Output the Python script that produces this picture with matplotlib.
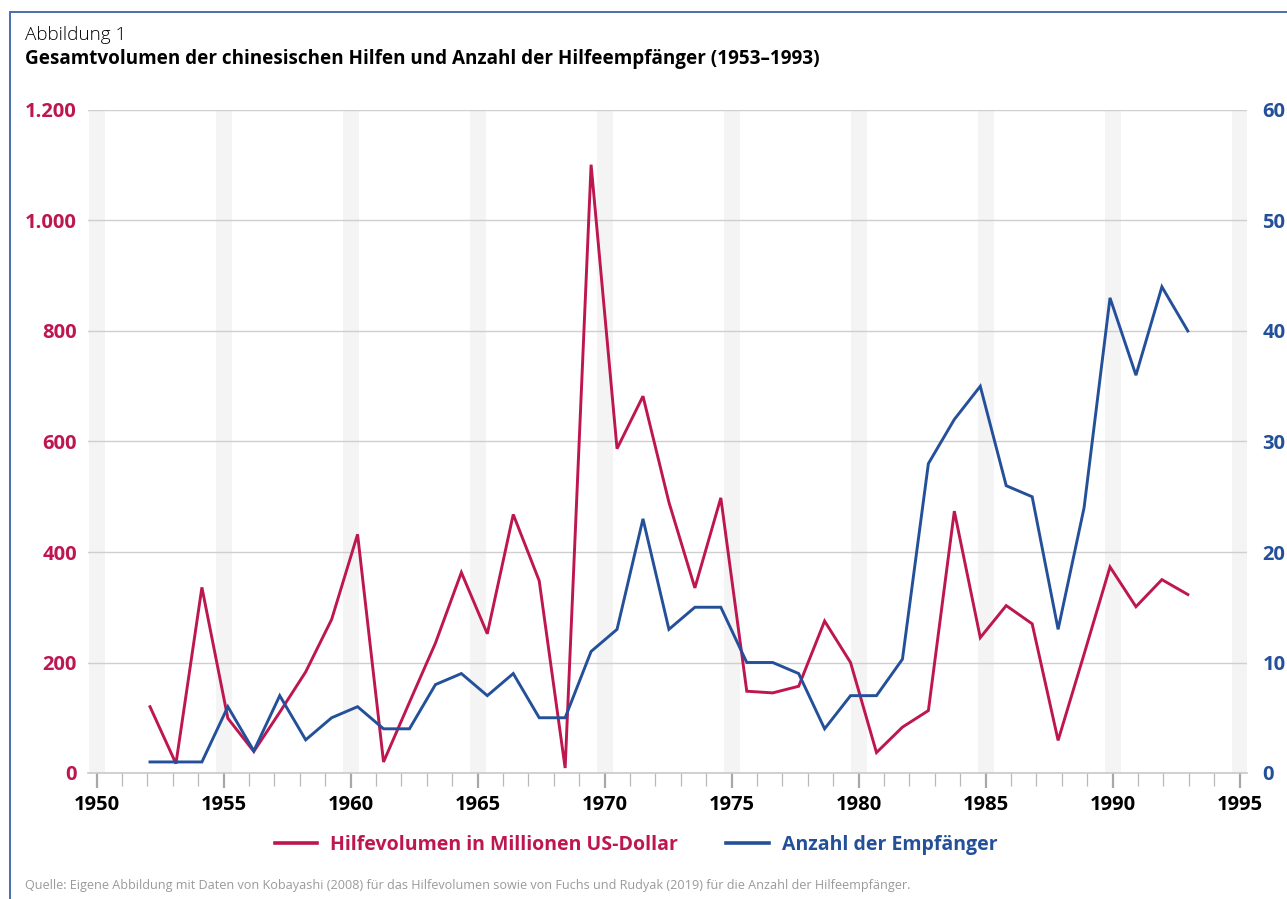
import numpy as np
import matplotlib
matplotlib.use("Agg")
import matplotlib.pyplot as plt
from matplotlib.patches import Rectangle
from matplotlib.lines import Line2D

# Daten
jahre = list(range(1953, 1994))
hilfevolumen = [120, 17, 336, 99, 39, 110, 183, 278, 432, 20,
                128, 235, 363, 252, 468, 348, 9, 1101, 587, 682,
                490, 335, 498, 148, 145, 157, 275, 200, 37, 83,
                113, 474, 245, 303, 270, 59, 215, 373, 301, 350, 323]
empfaenger = [1, 1, 1, 6, 2, 7, 3, 5, 6, 4,
              4, 8, 9, 7, 9, 5, 5, 11, 13, 23,
              13, 15, 15, 10, 10, 9, 4, 7, 7, 10.3,
              28, 32, 35, 26, 25, 13, 24, 43, 36, 44, 40]
x_ticks = [1950, 1955, 1960, 1965, 1970, 1975, 1980, 1985, 1990, 1995]
y_links = [0, 200, 400, 600, 800, 1000, 1200]
y_links_labels = ["0", "200", "400", "600", "800", "1.000", "1.200"]
y_rechts = [0, 10, 20, 30, 40, 50, 60]

rot = "#be1650"
blau = "#24509a"
schrift = ["Open Sans", "DejaVu Sans"]

fig = plt.figure(figsize=(12.87, 8.99), dpi=100)
pos = [88 / 1287, 126 / 899, (1247 - 88) / 1287, (773 - 110) / 899]

# Hintergrund-Achse: Baender, Gitter, x-Ticks, linke Beschriftung
ax = fig.add_axes(pos)
ax.set_xlim(1949.66, 1995.29)
ax.set_ylim(0, 1200)
for t in x_ticks:
    ax.axvspan(t - 0.31, t + 0.31, color="#f4f4f4", lw=0, zorder=0)
for v in y_links[1:]:
    ax.axhline(v, color="#cfcfcf", lw=1, zorder=1)
for s in ["top", "right", "left"]:
    ax.spines[s].set_visible(False)
ax.spines["bottom"].set_color("#c8c8c8")
ax.spines["bottom"].set_linewidth(1.2)
ax.set_xticks(x_ticks)
ax.set_xticks(range(1950, 1996), minor=True)
ax.tick_params(axis="x", which="major", length=11, width=1.6, color="#a8a8a8", pad=5,
               labelsize=14.5, labelcolor="black")
ax.tick_params(axis="x", which="minor", length=9, width=0.9, color="#b8b8b8")
for lab in ax.get_xticklabels():
    lab.set_family(schrift)
    lab.set_fontweight("bold")
ax.set_yticks(y_links)
ax.set_yticklabels(y_links_labels, family=schrift, fontweight="bold", fontsize=14.5, color=rot)
ax.tick_params(axis="y", length=0, pad=8)

# Linien-Achsen
la = fig.add_axes(pos, frameon=False)
la.set_xlim(1950.61, 1995.28)
la.set_ylim(0, 1200)
la.set_xticks([])
la.set_yticks([])
la.plot(jahre, hilfevolumen, color=rot, lw=2.1, solid_joinstyle="miter")

lb = la.twinx()
lb.set_ylim(0, 60)
for s in lb.spines.values():
    s.set_visible(False)
lb.plot(jahre, empfaenger, color=blau, lw=2.1, solid_joinstyle="miter")
lb.set_yticks(y_rechts)
lb.set_yticklabels([str(v) for v in y_rechts], family=schrift, fontweight="bold",
                   fontsize=14.5, color=blau)
lb.tick_params(axis="y", length=0, pad=11)

# Legende
handles = [Line2D([], [], color=rot, lw=2.6), Line2D([], [], color=blau, lw=2.6)]
leg = fig.legend(handles, ["Hilfevolumen in Millionen US-Dollar", "Anzahl der Empfänger"],
                 loc="center", bbox_to_anchor=(636 / 1287, 1 - 845 / 899), ncol=2,
                 frameon=False, handlelength=2.2, handletextpad=0.65, columnspacing=2.5,
                 prop={"family": schrift, "weight": "bold", "size": 14})
for txt, c in zip(leg.get_texts(), [rot, blau]):
    txt.set_color(c)

# Texte
fig.text(25 / 1287, 1 - 35 / 899, "Abbildung 1", family=schrift, fontweight="light",
         fontsize=13.6, va="center", ha="left")
fig.text(25 / 1287, 1 - 59 / 899,
         "Gesamtvolumen der chinesischen Hilfen und Anzahl der Hilfeempfänger (1953–1993)",
         family=schrift, fontweight="bold", fontsize=13.6, va="center", ha="left")
fig.text(25 / 1287, 1 - 886 / 899,
         "Quelle: Eigene Abbildung mit Daten von Kobayashi (2008) für das Hilfevolumen sowie "
         "von Fuchs und Rudyak (2019) für die Anzahl der Hilfeempfänger.",
         family=schrift, fontsize=9.1, color="#9a9a9a", va="center", ha="left")

# Rahmen
fig.patches.append(Rectangle((10 / 1287, -0.1), 1.2, 1 - 12 / 899 + 0.1,
                             transform=fig.transFigure, fill=False,
                             edgecolor="#4d6db0", lw=1.4))

fig.savefig("out.png", dpi=100)
